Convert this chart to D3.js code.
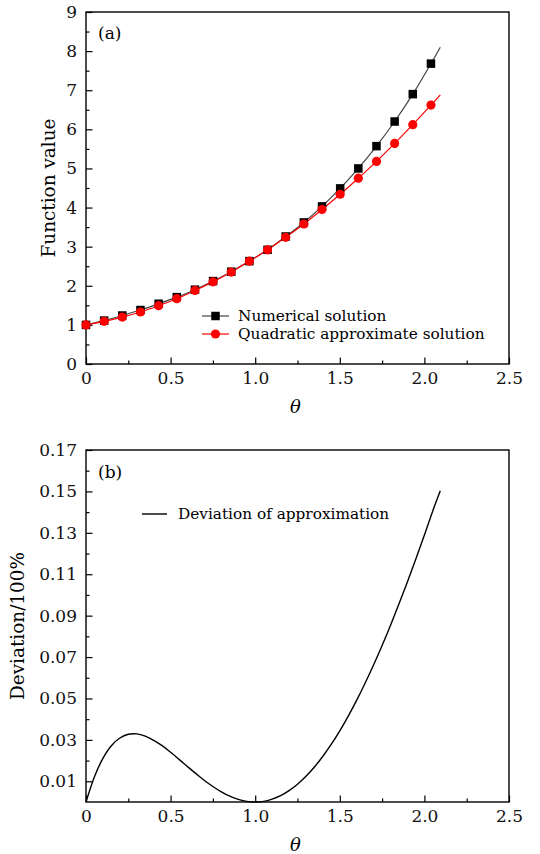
<!DOCTYPE html>
<html>
<head>
<meta charset="utf-8">
<script src="https://cdn.jsdelivr.net/npm/d3@7"></script>
<style>
  html, body { margin: 0; padding: 0; background: #fff; }
  svg { display: block; }
  svg text { font-family: "DejaVu Serif", "Liberation Serif", "Times New Roman", serif; }
</style>
</head>
<body>
<svg></svg>
<script>
'use strict';

const svgWidth = 540;
const svgHeight = 854;

// panel (a): marker positions and values
const thetaMarks = [0, 0.1073, 0.2146, 0.3219, 0.4292, 0.5365, 0.6438, 0.7511, 0.8584, 0.9657,
  1.073, 1.1803, 1.2876, 1.3949, 1.5022, 1.6095, 1.7168, 1.8241, 1.9314, 2.0387];
const numerical = [1, 1.11, 1.24, 1.38, 1.54, 1.71, 1.90, 2.12, 2.36, 2.63,
  2.92, 3.26, 3.62, 4.03, 4.49, 5.00, 5.57, 6.20, 6.90, 7.68];
const quadratic = [1, 1.09, 1.20, 1.33, 1.49, 1.67, 1.88, 2.10, 2.35, 2.63,
  2.92, 3.24, 3.58, 3.95, 4.34, 4.75, 5.18, 5.64, 6.12, 6.62];
// the curves run a bit past the last marker
const thetaEnd = 2.094;
const numericalEnd = 8.10;
const quadraticEnd = 6.88;

// panel (b): deviation curve
const thetaDev = [0, 0.05, 0.1, 0.15, 0.2, 0.25, 0.3, 0.35, 0.4, 0.45, 0.5, 0.55, 0.6, 0.65,
  0.7, 0.75, 0.8, 0.85, 0.9, 0.95, 1.0, 1.05, 1.1, 1.15, 1.2, 1.25, 1.3, 1.35, 1.4, 1.45,
  1.5, 1.55, 1.6, 1.65, 1.7, 1.75, 1.8, 1.85, 1.9, 1.95, 2.0, 2.05, 2.094];
const deviation = [0, 0.0122, 0.0211, 0.0272, 0.0309, 0.0327, 0.0329, 0.0318, 0.0298, 0.0272,
  0.0240, 0.0206, 0.0171, 0.0137, 0.0104, 0.0075, 0.0049, 0.0028, 0.0013, 0.0003, 0,
  0.0003, 0.0014, 0.0031, 0.0055, 0.0086, 0.0124, 0.0169, 0.0221, 0.0279, 0.0344, 0.0415,
  0.0492, 0.0575, 0.0663, 0.0756, 0.0854, 0.0957, 0.1064, 0.1175, 0.1289, 0.1407, 0.1503];

// ticks
const xMajor = [0, 0.5, 1.0, 1.5, 2.0, 2.5];
const xMinor = [0.25, 0.75, 1.25, 1.75, 2.25];
const yMajorA = [0, 1, 2, 3, 4, 5, 6, 7, 8, 9];
const yMinorA = [0.5, 1.5, 2.5, 3.5, 4.5, 5.5, 6.5, 7.5, 8.5];
const yMajorB = [0.01, 0.03, 0.05, 0.07, 0.09, 0.11, 0.13, 0.15, 0.17];
const yMinorB = [0.02, 0.04, 0.06, 0.08, 0.10, 0.12, 0.14, 0.16];

const legendA = ['Numerical solution', 'Quadratic approximate solution'];
const legendB = 'Deviation of approximation';

const plotLeft = 86;
const plotRight = 509;

const svg = d3.select('svg')
  .attr('width', svgWidth)
  .attr('height', svgHeight);

const x = d3.scaleLinear().domain([0, 2.5]).range([plotLeft, plotRight]);

function drawFrame(top, bottom, y, yMajor, yMinor, yFmt) {
  const g = svg.append('g');

  // x axis ticks, pointing inwards
  g.append('g')
    .attr('transform', `translate(0, ${bottom})`)
    .call(d3.axisBottom(x).tickValues(xMajor).tickSizeInner(-6.5).tickSizeOuter(0)
      .tickPadding(8).tickFormat(d => d === 0 ? '0' : d3.format('.1f')(d)))
    .call(a => a.select('.domain').remove());
  g.append('g')
    .attr('transform', `translate(0, ${bottom})`)
    .call(d3.axisBottom(x).tickValues(xMinor).tickSizeInner(-3.5).tickSizeOuter(0)
      .tickFormat(''))
    .call(a => a.select('.domain').remove());

  // y axis ticks
  g.append('g')
    .attr('transform', `translate(${plotLeft}, 0)`)
    .call(d3.axisLeft(y).tickValues(yMajor).tickSizeInner(-6.5).tickSizeOuter(0)
      .tickPadding(9).tickFormat(yFmt))
    .call(a => a.select('.domain').remove());
  g.append('g')
    .attr('transform', `translate(${plotLeft}, 0)`)
    .call(d3.axisLeft(y).tickValues(yMinor).tickSizeInner(-3.5).tickSizeOuter(0)
      .tickFormat(''))
    .call(a => a.select('.domain').remove());

  g.selectAll('.tick line').attr('stroke', '#000').attr('stroke-width', 1.2);
  g.selectAll('.tick text')
    .attr('font-size', 17)
    .attr('fill', '#111');

  // box
  g.append('rect')
    .attr('x', plotLeft)
    .attr('y', top)
    .attr('width', plotRight - plotLeft)
    .attr('height', bottom - top)
    .attr('fill', 'none')
    .attr('stroke', '#000')
    .attr('stroke-width', 1.4);

  // theta label
  svg.append('text')
    .attr('x', (plotLeft + plotRight) / 2 - 2)
    .attr('y', bottom + 49)
    .attr('text-anchor', 'middle')
    .attr('font-style', 'italic')
    .attr('font-size', 18)
    .text('θ');
}

// ---- panel (a)
const topA = 12, bottomA = 364;
const yA = d3.scaleLinear().domain([0, 9]).range([bottomA, topA]);
drawFrame(topA, bottomA, yA, yMajorA, yMinorA, d3.format('d'));

svg.append('text')
  .attr('transform', `translate(55, ${(topA + bottomA) / 2}) rotate(-90)`)
  .attr('text-anchor', 'middle')
  .attr('font-size', 19)
  .attr('textLength', 139)
  .attr('lengthAdjust', 'spacingAndGlyphs')
  .text('Function value');

svg.append('text')
  .attr('x', 98)
  .attr('y', 39)
  .attr('font-size', 17)
  .text('(a)');

const lineA = d3.line()
  .x(d => x(d[0]))
  .y(d => yA(d[1]))
  .curve(d3.curveCatmullRom);

const numPts = thetaMarks.map((t, i) => [t, numerical[i]]).concat([[thetaEnd, numericalEnd]]);
const quadPts = thetaMarks.map((t, i) => [t, quadratic[i]]).concat([[thetaEnd, quadraticEnd]]);

svg.append('path')
  .datum(numPts)
  .attr('fill', 'none')
  .attr('stroke', '#444')
  .attr('stroke-width', 1.2)
  .attr('d', lineA);

svg.append('path')
  .datum(quadPts)
  .attr('fill', 'none')
  .attr('stroke', '#f00')
  .attr('stroke-width', 1.2)
  .attr('d', lineA);

const sq = 8.5;
svg.append('g')
  .selectAll('rect')
  .data(numPts.slice(0, thetaMarks.length))
  .join('rect')
  .attr('x', d => x(d[0]) - sq / 2)
  .attr('y', d => yA(d[1]) - sq / 2)
  .attr('width', sq)
  .attr('height', sq)
  .attr('fill', '#000');

svg.append('g')
  .selectAll('circle')
  .data(quadPts.slice(0, thetaMarks.length))
  .join('circle')
  .attr('cx', d => x(d[0]))
  .attr('cy', d => yA(d[1]))
  .attr('r', 4.6)
  .attr('fill', '#f00');

// legend (a)
const legA = svg.append('g');
legendA.forEach((name, i) => {
  const ly = 316 + i * 18;
  legA.append('line')
    .attr('x1', 202).attr('x2', 229)
    .attr('y1', ly).attr('y2', ly)
    .attr('stroke', i === 0 ? '#444' : '#f00')
    .attr('stroke-width', 1.2);
  if (i === 0) {
    legA.append('rect')
      .attr('x', 215.5 - sq / 2).attr('y', ly - sq / 2)
      .attr('width', sq).attr('height', sq)
      .attr('fill', '#000');
  } else {
    legA.append('circle')
      .attr('cx', 215.5).attr('cy', ly)
      .attr('r', 4.6)
      .attr('fill', '#f00');
  }
  legA.append('text')
    .attr('x', 238)
    .attr('y', ly)
    .attr('dy', '0.32em')
    .attr('font-size', 15.3)
    .text(name);
});

// ---- panel (b)
const topB = 450, bottomB = 802;
const yB = d3.scaleLinear().domain([0, 0.17]).range([bottomB, topB]);
drawFrame(topB, bottomB, yB, yMajorB, yMinorB, d3.format('.2f'));

svg.append('text')
  .attr('transform', `translate(24, ${(topB + bottomB) / 2}) rotate(-90)`)
  .attr('text-anchor', 'middle')
  .attr('font-size', 19)
  .attr('textLength', 148)
  .attr('lengthAdjust', 'spacingAndGlyphs')
  .text('Deviation/100%');

svg.append('text')
  .attr('x', 98)
  .attr('y', 478)
  .attr('font-size', 17)
  .text('(b)');

svg.append('path')
  .datum(thetaDev.map((t, i) => [t, deviation[i]]))
  .attr('fill', 'none')
  .attr('stroke', '#000')
  .attr('stroke-width', 1.4)
  .attr('d', d3.line()
    .x(d => x(d[0]))
    .y(d => yB(d[1]))
    .curve(d3.curveCatmullRom));

svg.append('line')
  .attr('x1', 142).attr('x2', 167)
  .attr('y1', 514).attr('y2', 514)
  .attr('stroke', '#000')
  .attr('stroke-width', 1.4);

svg.append('text')
  .attr('x', 178)
  .attr('y', 514)
  .attr('dy', '0.32em')
  .attr('font-size', 15.3)
  .text(legendB);
</script>
</body>
</html>
